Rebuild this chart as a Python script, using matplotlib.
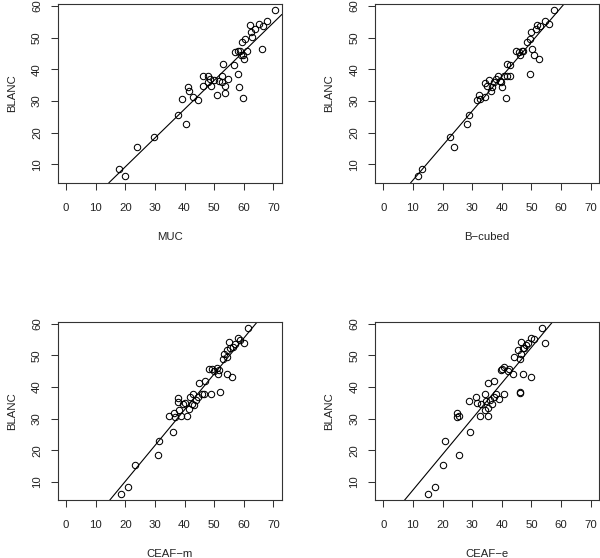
import matplotlib
matplotlib.use("Agg")
import matplotlib.pyplot as plt

# BLANC against each of the other coreference metrics
muc_x = [18.0, 19.9, 24.0, 29.7, 37.8, 40.4, 39.0, 41.2, 41.6, 42.7,
         44.7, 46.4, 46.4, 47.9, 47.9, 48.6, 49.1, 49.8, 50.9, 51.7,
         52.5, 52.5, 52.9, 53.5, 53.6, 54.6, 56.6, 57.1, 57.9, 58.1,
         58.4, 58.8, 59.0, 59.5, 59.9, 59.9, 60.2, 60.5, 61.0, 62.2,
         62.4, 62.9, 63.9, 65.2, 66.2, 66.4, 67.7, 70.7]
muc_y = [8.4, 6.3, 15.4, 18.5, 25.7, 22.8, 30.7, 34.4, 33.0, 31.1,
         30.3, 37.9, 34.8, 37.9, 36.1, 37.0, 34.8, 36.6, 31.8, 36.3,
         37.8, 35.9, 41.8, 32.4, 34.7, 37.0, 41.3, 45.5, 45.7, 38.4,
         34.5, 45.7, 44.5, 48.6, 44.5, 30.8, 43.2, 49.6, 45.9, 54.0,
         51.9, 50.3, 52.7, 54.3, 46.3, 53.7, 55.3, 58.6]

b3_x = [11.7, 13.2, 22.6, 23.7, 28.1, 28.8, 31.5, 32.3, 32.6, 34.3,
        34.3, 35.0, 35.7, 36.2, 36.6, 37.4, 38.0, 38.8, 39.5, 39.8,
        40.2, 40.6, 41.4, 41.8, 41.6, 42.7, 42.9, 44.8, 45.8, 46.3,
        46.7, 47.3, 48.6, 49.4, 49.5, 49.7, 50.3, 51.0, 51.4, 51.8,
        52.4, 53.0, 54.5, 55.8, 57.6]
b3_y = [6.3, 8.4, 18.5, 15.4, 22.8, 25.7, 30.3, 31.8, 30.7, 31.1,
        35.8, 34.8, 36.6, 33.0, 34.4, 36.1, 37.0, 37.9, 36.3, 35.9,
        34.5, 37.8, 30.8, 41.8, 37.9, 37.9, 41.3, 45.7, 45.5, 44.5,
        45.9, 45.7, 48.6, 49.6, 38.4, 51.9, 46.3, 44.5, 52.6, 54.0,
        43.2, 53.7, 55.3, 54.3, 58.6]

cm_x = [18.6, 21.0, 23.3, 31.1, 31.3, 36.0, 34.7, 36.3, 36.7, 37.8,
        37.8, 38.2, 38.9, 39.4, 40.2, 40.9, 41.4, 41.8, 42.5, 43.0,
        43.2, 43.8, 44.4, 45.0, 45.8, 46.7, 46.8, 48.2, 49.1, 49.4,
        50.0, 50.9, 51.5, 51.9, 51.4, 53.0, 53.2, 54.2, 54.5, 54.3,
        55.0, 55.4, 55.9, 56.3, 57.2, 58.1, 58.8, 60.1, 61.5]
cm_y = [6.3, 8.4, 15.4, 18.5, 22.8, 25.7, 30.8, 31.7, 30.4, 36.5,
        35.2, 32.6, 30.8, 34.5, 34.8, 30.8, 32.9, 36.9, 34.6, 37.8,
        34.3, 35.8, 36.9, 41.3, 37.8, 37.8, 41.9, 45.7, 37.8, 45.7,
        45.0, 46.1, 45.5, 38.5, 44.2, 48.7, 50.3, 44.0, 49.5, 51.8,
        54.3, 52.4, 43.0, 52.6, 53.7, 55.3, 54.7, 53.9, 58.6]

ce_x = [15.1, 17.5, 20.2, 20.9, 25.7, 24.8, 24.9, 25.7, 29.3, 29.0,
        31.2, 31.6, 32.8, 33.1, 34.2, 34.3, 34.6, 35.3, 35.3, 35.5,
        35.9, 36.6, 37.2, 37.5, 38.0, 39.1, 39.7, 39.9, 40.9, 40.9,
        42.0, 42.5, 43.7, 44.2, 45.5, 46.0, 46.3, 46.3, 46.4, 46.5,
        47.2, 47.3, 47.6, 48.1, 48.8, 49.9, 50.0, 51.0, 53.7, 54.7]
ce_y = [6.3, 8.4, 15.4, 22.8, 18.5, 31.7, 30.4, 30.8, 25.7, 35.6,
        36.9, 34.8, 30.8, 34.5, 37.7, 32.7, 35.5, 30.8, 41.3, 33.5,
        35.8, 34.6, 36.7, 41.9, 37.8, 36.2, 45.5, 45.7, 46.3, 37.8,
        45.0, 45.7, 44.2, 49.5, 51.8, 48.7, 38.5, 38.0, 54.2, 50.5,
        52.4, 44.2, 52.4, 53.2, 53.9, 55.3, 43.0, 55.0, 58.6, 53.9]

# fitted lines (intercept, slope)
fits = [(-9.0, 0.91), (-5.9, 1.09), (-12.4, 1.13), (-3.8, 1.126)]
names = ["MUC", "B\u2212cubed", "CEAF\u2212m", "CEAF\u2212e"]
xs = [muc_x, b3_x, cm_x, ce_x]
ys = [muc_y, b3_y, cm_y, ce_y]

x_ticks = [0, 10, 20, 30, 40, 50, 60, 70]
y_ticks = [10, 20, 30, 40, 50, 60]

plt.rcParams["font.family"] = ["Liberation Sans", "DejaVu Sans"]
plt.rcParams["font.size"] = 8.2

W, H = 600, 558
fig = plt.figure(figsize=(W / 100, H / 100), dpi=100)

# axes boxes in pixels: left, top
boxes = [(57.7, 4.0), (375.0, 4.0), (57.7, 321.7), (375.0, 321.7)]
bw, bh = 224.0, 178.7

for i in range(4):
    left, top = boxes[i]
    ax = fig.add_axes([left / W, (H - top - bh) / H, bw / W, bh / H])
    ax.plot(xs[i], ys[i], "o", mfc="none", mec="black", ms=4.6, mew=0.75)
    b, m = fits[i]
    ax.axline((0, b), slope=m, color="black", lw=0.8)

    ax.set_xlim(-2.8, 72.8)
    ax.set_ylim(4.2, 60.6)
    ax.set_xticks(x_ticks)
    ax.set_yticks(y_ticks)
    ax.tick_params(direction="out", length=5.3, width=0.75, color="#333333",
                   labelcolor="#222222")
    ax.tick_params(axis="x", pad=9.0)
    ax.tick_params(axis="y", pad=6.0)
    for lab in ax.get_yticklabels():
        lab.set_rotation(90)
        lab.set_va("center")
        lab.set_ha("right")
    for sp in ax.spines.values():
        sp.set_linewidth(0.8)
        sp.set_color("#333333")

    ax.set_xlabel(names[i], va="center", color="#222222")
    ax.xaxis.set_label_coords(0.5, -54.0 / bh)
    ax.set_ylabel("BLANC", va="center", color="#222222")
    ax.yaxis.set_label_coords(-45.7 / bw, 0.5)

fig.savefig("out.png", dpi=100)
